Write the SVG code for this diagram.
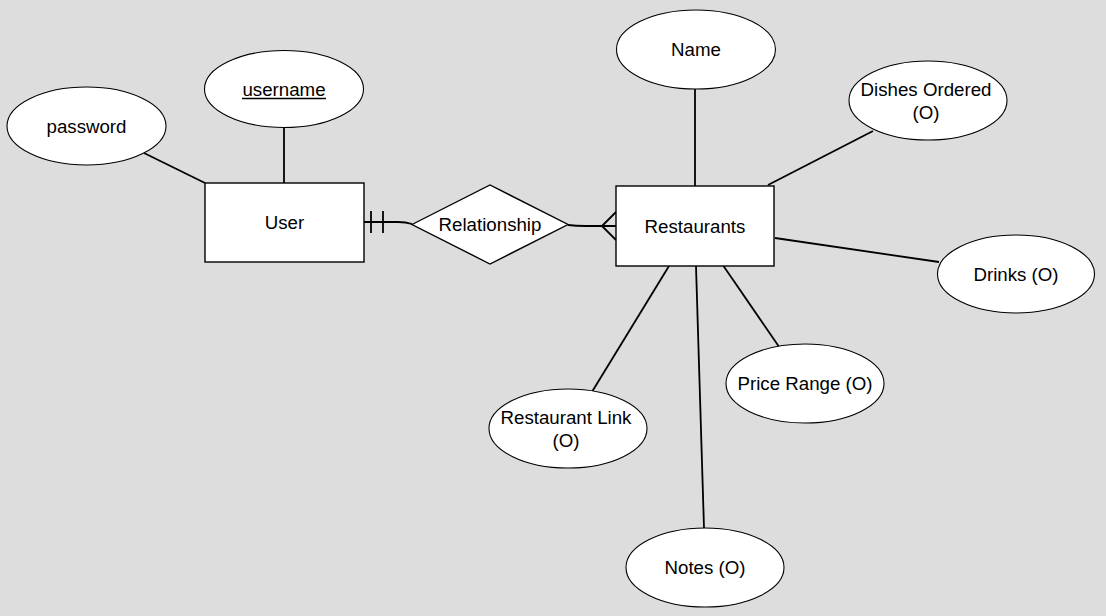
<svg xmlns="http://www.w3.org/2000/svg" width="1106" height="616" viewBox="0 0 1106 616">
<style>
.shape{fill:#ffffff;stroke:#000000;stroke-width:1.4}
.ell{fill:#ffffff;stroke:#000000;stroke-width:1.1}
.conn{fill:none;stroke:#000000;stroke-width:1.8}
text{font-family:"Liberation Sans",Arial,Helvetica,sans-serif;font-size:18.7px;fill:#000000;text-anchor:middle}
</style>
<rect x="0" y="0" width="1106" height="616" fill="#dddddd"/>
<g id="connectors">
<line class="conn" x1="144" y1="153" x2="205" y2="183"/>
<line class="conn" x1="284" y1="128" x2="284" y2="183"/>
<path class="conn" d="M364,222 L398,222 Q406,222 412,224"/>
<line class="conn" x1="371" y1="211" x2="371" y2="233"/>
<line class="conn" x1="383" y1="211" x2="383" y2="233"/>
<path class="conn" d="M568,225 Q576,226 586,226 L616,226"/>
<line class="conn" x1="602" y1="226" x2="616" y2="212"/>
<line class="conn" x1="602" y1="226" x2="616" y2="240"/>
<line class="conn" x1="695" y1="89" x2="695" y2="186"/>
<line class="conn" x1="873" y1="131" x2="768" y2="185"/>
<line class="conn" x1="775" y1="238" x2="939" y2="262"/>
<line class="conn" x1="723.5" y1="266" x2="778.5" y2="346"/>
<line class="conn" x1="696" y1="266" x2="704" y2="528"/>
<line class="conn" x1="669" y1="266" x2="592.5" y2="391"/>
</g>
<g id="node-user">
<rect class="shape" x="205" y="183" width="159" height="79"/>
<text x="284.5" y="229">User</text>
</g>
<g id="node-username">
<ellipse class="ell" cx="284" cy="89" rx="79.5" ry="38.5"/>
<text x="284" y="96">username</text>
<line x1="242" y1="98.5" x2="326" y2="98.5" stroke="#000" stroke-width="1.3"/>
</g>
<g id="node-password">
<ellipse class="ell" cx="86.5" cy="126" rx="79.5" ry="39"/>
<text x="86.5" y="132.5">password</text>
</g>
<g id="node-relationship">
<polygon class="shape" points="412,224.5 490,185 568,224.5 490,264"/>
<text x="490" y="231">Relationship</text>
</g>
<g id="node-restaurants">
<rect class="shape" x="616" y="186" width="158" height="80"/>
<text x="695" y="232.5">Restaurants</text>
</g>
<g id="node-name">
<ellipse class="ell" cx="696" cy="49.5" rx="79.5" ry="39.5"/>
<text x="696" y="56">Name</text>
</g>
<g id="node-dishes">
<ellipse class="ell" cx="928" cy="100.5" rx="79" ry="39.5"/>
<text x="926" y="95.5">Dishes Ordered</text>
<text x="926" y="118.5">(O)</text>
</g>
<g id="node-drinks">
<ellipse class="ell" cx="1016" cy="274" rx="78.5" ry="39"/>
<text x="1016" y="280.5">Drinks (O)</text>
</g>
<g id="node-price">
<ellipse class="ell" cx="805" cy="383.5" rx="79" ry="39.5"/>
<text x="805" y="390">Price Range (O)</text>
</g>
<g id="node-link">
<ellipse class="ell" cx="568" cy="428.5" rx="79" ry="39.5"/>
<text x="566" y="424">Restaurant Link</text>
<text x="566" y="447">(O)</text>
</g>
<g id="node-notes">
<ellipse class="ell" cx="705" cy="567.5" rx="79" ry="39.5"/>
<text x="705" y="574">Notes (O)</text>
</g>
</svg>
